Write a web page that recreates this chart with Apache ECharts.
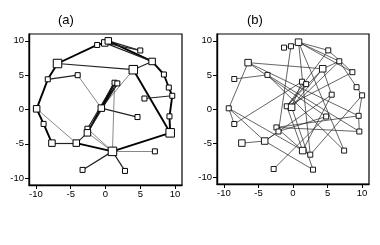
<!DOCTYPE html>
<html><head><meta charset="utf-8">
<script src="https://cdn.jsdelivr.net/npm/echarts@6/dist/echarts.min.js"></script>
<style>html,body{margin:0;padding:0;background:#fff}#c{width:380px;height:245px}</style>
</head><body><div id="c"></div>
<script>
// ---- data ----
const panelTitles = ['(a)', '(b)'];
const tickValues = [-10, -5, 0, 5, 10];

// panel (a) nodes
const aX = [-1.2, -0.1, 0.4, 5.0, 6.7, -6.9, 4.0, -8.3, -4.0, 8.4, 1.3, 1.7, 9.1, 9.6, 5.6, -9.9, -0.6, 4.6, 9.2, -8.9, -2.6, -2.6, -7.7, -4.2, 9.3, 1.0, 7.1, -3.3, 2.8];
const aY = [9.4, 9.7, 10.0, 8.6, 7.0, 6.7, 5.8, 4.4, 5.0, 5.1, 3.9, 3.8, 3.2, 2.0, 1.6, 0.1, 0.2, -1.1, -1.0, -2.1, -2.8, -3.4, -4.9, -4.9, -3.4, -6.1, -6.1, -8.8, -8.95];
const aClass = [1, 2, 2, 1, 2, 3, 3, 1, 1, 1, 1, 1, 1, 1, 1, 2, 2, 1, 1, 1, 1, 2, 2, 2, 3, 3, 1, 1, 1];
// panel (a) edges: source, target, weight class
const aSrc = [15, 7, 5, 0, 1, 2, 1, 1, 2, 4, 9, 12, 13, 18, 15, 19, 22, 23, 25, 6, 5, 6, 6, 7, 8, 16, 16, 10, 11, 10, 16, 14, 15, 23, 20, 21, 10, 25, 25, 25];
const aTgt = [7, 5, 0, 1, 2, 4, 4, 3, 3, 9, 12, 13, 18, 24, 19, 22, 23, 25, 24, 24, 6, 4, 16, 8, 16, 10, 11, 21, 21, 20, 17, 13, 23, 21, 25, 25, 25, 26, 27, 28];
const aW =   [3, 3, 3, 3, 2, 3, 2, 2, 2, 3, 3, 3, 3, 3, 3, 3, 2, 3, 3, 3, 2, 2, 1, 2, 1, 3, 3, 3, 2, 2, 2, 2, 1, 2, 1, 1, 1, 1, 2, 2];

// panel (b) nodes
const bX = [-1.3, -0.3, 0.8, 5.1, 6.7, -6.5, 4.3, 8.6, -8.5, -3.7, 1.3, 1.9, 9.2, 10.0, 5.6, -9.3, -0.9, -0.2, 4.8, 9.5, -8.5, -2.4, -2.1, -7.4, -4.1, 9.6, 1.4, 2.5, 7.4, -2.8, 2.9];
const bY = [9.0, 9.2, 9.8, 8.6, 7.0, 6.8, 5.9, 5.4, 4.4, 5.0, 4.0, 3.65, 3.2, 2.0, 2.1, 0.1, 0.4, 0.25, -1.1, -1.0, -2.2, -2.7, -3.3, -5.0, -4.7, -3.3, -6.1, -6.7, -6.1, -8.8, -8.9];
const bClass = [1, 1, 2, 1, 1, 2, 2, 1, 1, 1, 1, 1, 1, 1, 1, 1, 1, 2, 1, 1, 1, 1, 1, 2, 2, 1, 2, 1, 1, 1, 1];
const bSrc = [0, 1, 2, 2, 2, 2, 1, 3, 3, 4, 4, 4, 5, 5, 5, 5, 8, 9, 9, 6, 6, 10, 11, 6, 7, 12, 13, 19, 15, 20, 15, 15, 23, 24, 24, 22, 24, 29, 27, 2, 17, 16, 25, 26, 19, 14];
const bTgt = [1, 2, 3, 4, 7, 27, 22, 7, 16, 6, 17, 12, 6, 15, 18, 19, 9, 25, 28, 16, 17, 17, 16, 14, 16, 13, 19, 25, 20, 10, 27, 24, 24, 22, 14, 18, 30, 18, 13, 28, 30, 26, 21, 21, 21, 26];

// ---- rendering ----
const nodeSize = {1: 5, 2: 6.5, 3: 8.5};
const edgeStyle = {
  1: {color: '#555', width: 0.7, opacity: 1},
  2: {color: '#222', width: 1.2, opacity: 1},
  3: {color: '#000', width: 1.9, opacity: 1}
};

function nodeData(xs, ys, cls) {
  return xs.map((x, i) => ({value: [x, ys[i]], symbolSize: nodeSize[cls[i]]}));
}
function edgeData(xs, ys, src, tgt, w) {
  return src.map((s, i) => ({
    coords: [[xs[s], ys[s]], [xs[tgt[i]], ys[tgt[i]]]],
    lineStyle: w ? edgeStyle[w[i]] : {color: '#222', width: 0.7, opacity: 1}
  }));
}

const grids = [
  {left: 29, top: 34, width: 153, height: 151},
  {left: 217, top: 34, width: 152, height: 150}
];
const axisCommon = (idx, isX) => ({
  gridIndex: idx, type: 'value', min: -11, max: 11,
  axisLine: {show: true, onZero: false, lineStyle: {color: '#000', width: 1.4}},
  axisTick: {show: true, inside: false, length: 4, customValues: tickValues, lineStyle: {color: '#000', width: 1}},
  axisLabel: {customValues: tickValues, color: '#000', fontSize: 9.5, fontFamily: 'Liberation Sans, Arial', margin: isX ? 4 : 5},
  splitLine: {show: false}
});

const chart = echarts.init(document.getElementById('c'), null, {renderer: 'canvas'});
chart.setOption({
  animation: false,
  backgroundColor: '#fff',
  title: [
    {text: panelTitles[0], left: 53, top: 9, textStyle: {fontSize: 13, fontWeight: 'normal', fontFamily: 'Liberation Sans, Arial', color: '#000'}},
    {text: panelTitles[1], left: 242, top: 9, textStyle: {fontSize: 13, fontWeight: 'normal', fontFamily: 'Liberation Sans, Arial', color: '#000'}}
  ],
  grid: grids.map(g => Object.assign({show: true, borderColor: '#000', borderWidth: 1.2, backgroundColor: 'transparent'}, g)),
  xAxis: [axisCommon(0, true), axisCommon(1, true)],
  yAxis: [axisCommon(0, false), axisCommon(1, false)],
  series: [
    {type: 'lines', coordinateSystem: 'cartesian2d', xAxisIndex: 0, yAxisIndex: 0, z: 2, silent: true,
     lineStyle: {opacity: 1},
     data: edgeData(aX, aY, aSrc, aTgt, aW)},
    {type: 'scatter', xAxisIndex: 0, yAxisIndex: 0, z: 3, symbol: 'rect', silent: true,
     itemStyle: {color: '#fff', borderColor: '#000', borderWidth: 1, opacity: 1},
     data: nodeData(aX, aY, aClass)},
    {type: 'lines', coordinateSystem: 'cartesian2d', xAxisIndex: 1, yAxisIndex: 1, z: 2, silent: true,
     lineStyle: {opacity: 1},
     data: edgeData(bX, bY, bSrc, bTgt, null)},
    {type: 'scatter', xAxisIndex: 1, yAxisIndex: 1, z: 3, symbol: 'rect', silent: true,
     itemStyle: {color: '#fff', borderColor: '#000', borderWidth: 0.9, opacity: 1},
     data: nodeData(bX, bY, bClass)}
  ]
});
</script></body></html>
